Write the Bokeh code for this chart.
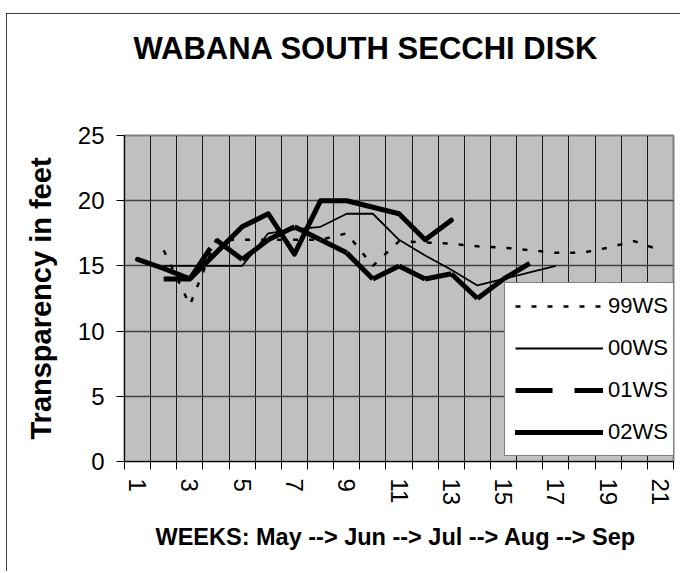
from bokeh.plotting import figure
from bokeh.models import Range1d, FixedTicker, Legend, LegendItem, Title
from bokeh.embed import file_html
from bokeh.resources import INLINE

FONT = "Liberation Sans"

# ---- data ----
all_weeks = [1, 2, 3, 4, 5, 6, 7, 8, 9, 10, 11, 12, 13, 14, 15, 16, 17, 18, 19, 20, 21]
tick_weeks = [1, 3, 5, 7, 9, 11, 13, 15, 17, 19, 21]
y_ticks = [0, 5, 10, 15, 20, 25]

weeks_99 = [2, 3, 4, 5, 6, 7, 8, 9, 10, 11, 12, 13, 14, 15, 16, 17, 18, 19, 20, 21]
secchi_99 = [16.2, 12, 17, 17, 17, 17, 17, 17.5, 15, 16.9, 16.8, 16.7, 16.5, 16.4, 16.2, 16.0, 16.0, 16.4, 16.9, 16.2]

weeks_00 = [2, 3, 4, 5, 6, 7, 8, 9, 10, 11, 12, 13, 14, 15, 16, 17]
secchi_00 = [15, 15, 15, 15, 17.5, 17.8, 18, 19, 19, 17, 15.8, 14.7, 13.5, 14, 14.5, 15]

weeks_01 = [2, 3, 4, 5, 6, 7, 8, 9, 10, 11, 12, 13, 14, 15, 16]
secchi_01 = [14, 14, 17, 15.5, 17, 18, 17, 16, 14, 15, 14, 14.4, 12.5, 14, 15.2]

weeks_02 = [1, 2, 3, 4, 5, 6, 7, 8, 9, 10, 11, 12, 13]
secchi_02 = [15.5, 14.8, 14, 16, 18, 19, 15.9, 20, 20, 19.5, 19, 17, 18.5]

boundaries = [w - 0.5 for w in all_weeks] + [all_weeks[-1] + 0.5]

p = figure(width=674, height=558,
           x_range=Range1d(all_weeks[0] - 0.5, all_weeks[-1] + 0.5),
           y_range=Range1d(y_ticks[0], y_ticks[-1]),
           output_backend="svg", toolbar_location=None,
           min_border_left=118, min_border_right=7,
           min_border_top=122, min_border_bottom=110)

p.styles = {"outline": "1px solid black", "outline-offset": "-1px",
            "margin-left": "6px", "margin-top": "13px"}

p.background_fill_color = "#C0C0C0"
p.border_fill_color = "white"
p.outline_line_color = "#808080"
p.outline_line_width = 2

p.title.text = "WABANA SOUTH SECCHI DISK"
p.title.text_font = FONT
p.title.text_font_size = "31px"
p.title.text_font_style = "bold"
p.title.text_color = "black"
p.title.align = "left"
p.title.offset = 9
p.title.standoff = 10

# spacer between the title and the plot area
spacer = Title(text=" ", text_font_size="1px", standoff=62)
p.add_layout(spacer, "above")

# x axis
xa = p.xaxis[0]
xa.ticker = FixedTicker(ticks=tick_weeks, minor_ticks=boundaries)
xa.major_tick_out = 0
xa.major_tick_in = 0
xa.minor_tick_out = 8
xa.minor_tick_in = 0
xa.minor_tick_line_color = "black"
xa.axis_line_color = "black"
xa.major_label_orientation = "vertical"
xa.major_label_standoff = 9
xa.major_label_text_font = FONT
xa.major_label_text_font_size = "24px"
xa.major_label_text_color = "black"
xa.axis_label = "WEEKS:  May --> Jun --> Jul --> Aug --> Sep"
xa.axis_label_text_font = FONT
xa.axis_label_text_font_size = "23.5px"
xa.axis_label_text_font_style = "bold"
xa.axis_label_text_color = "black"
xa.axis_label_standoff = 16

# y axis
ya = p.yaxis[0]
ya.ticker = FixedTicker(ticks=y_ticks)
ya.major_tick_out = 8
ya.major_tick_in = 0
ya.minor_tick_out = 0
ya.minor_tick_in = 0
ya.major_tick_line_color = "black"
ya.axis_line_color = "black"
ya.major_label_standoff = 12
ya.major_label_text_font = FONT
ya.major_label_text_font_size = "24px"
ya.major_label_text_color = "black"
ya.axis_label = "Transparency in feet"
ya.axis_label_text_font = FONT
ya.axis_label_text_font_size = "29px"
ya.axis_label_text_font_style = "bold"
ya.axis_label_text_color = "black"
ya.axis_label_standoff = 18

# grids
p.xgrid.ticker = FixedTicker(ticks=boundaries)
p.xgrid.grid_line_color = "#1a1a1a"
p.xgrid.grid_line_width = 1
p.ygrid.ticker = FixedTicker(ticks=y_ticks)
p.ygrid.grid_line_color = "#404040"
p.ygrid.grid_line_width = 1.5

# series
r99 = p.line(weeks_99, secchi_99, line_color="black", line_width=2.5, line_dash="5 11")
r00 = p.line(weeks_00, secchi_00, line_color="black", line_width=1.8)
xs01 = [[weeks_01[i], weeks_01[i + 1]] for i in range(len(weeks_01) - 1)]
ys01 = [[secchi_01[i], secchi_01[i + 1]] for i in range(len(secchi_01) - 1)]
r01 = p.multi_line(xs01, ys01, line_color="black", line_width=5, line_dash="37 22")
r02 = p.line(weeks_02, secchi_02, line_color="black", line_width=5,
             line_join="round", line_cap="round")

legend = Legend(items=[LegendItem(label="99WS", renderers=[r99]),
                       LegendItem(label="00WS", renderers=[r00]),
                       LegendItem(label="01WS", renderers=[r01]),
                       LegendItem(label="02WS", renderers=[r02])],
                location=(380, 5))
legend.label_text_font = FONT
legend.label_text_font_size = "22px"
legend.label_text_color = "black"
legend.glyph_width = 88
legend.glyph_height = 20
legend.label_height = 20
legend.spacing = 16
legend.padding = 10
legend.label_standoff = 5
legend.border_line_color = "black"
legend.border_line_width = 1
legend.background_fill_color = "white"
legend.background_fill_alpha = 1
p.add_layout(legend)

open("out.html", "w").write(file_html(p, INLINE))
